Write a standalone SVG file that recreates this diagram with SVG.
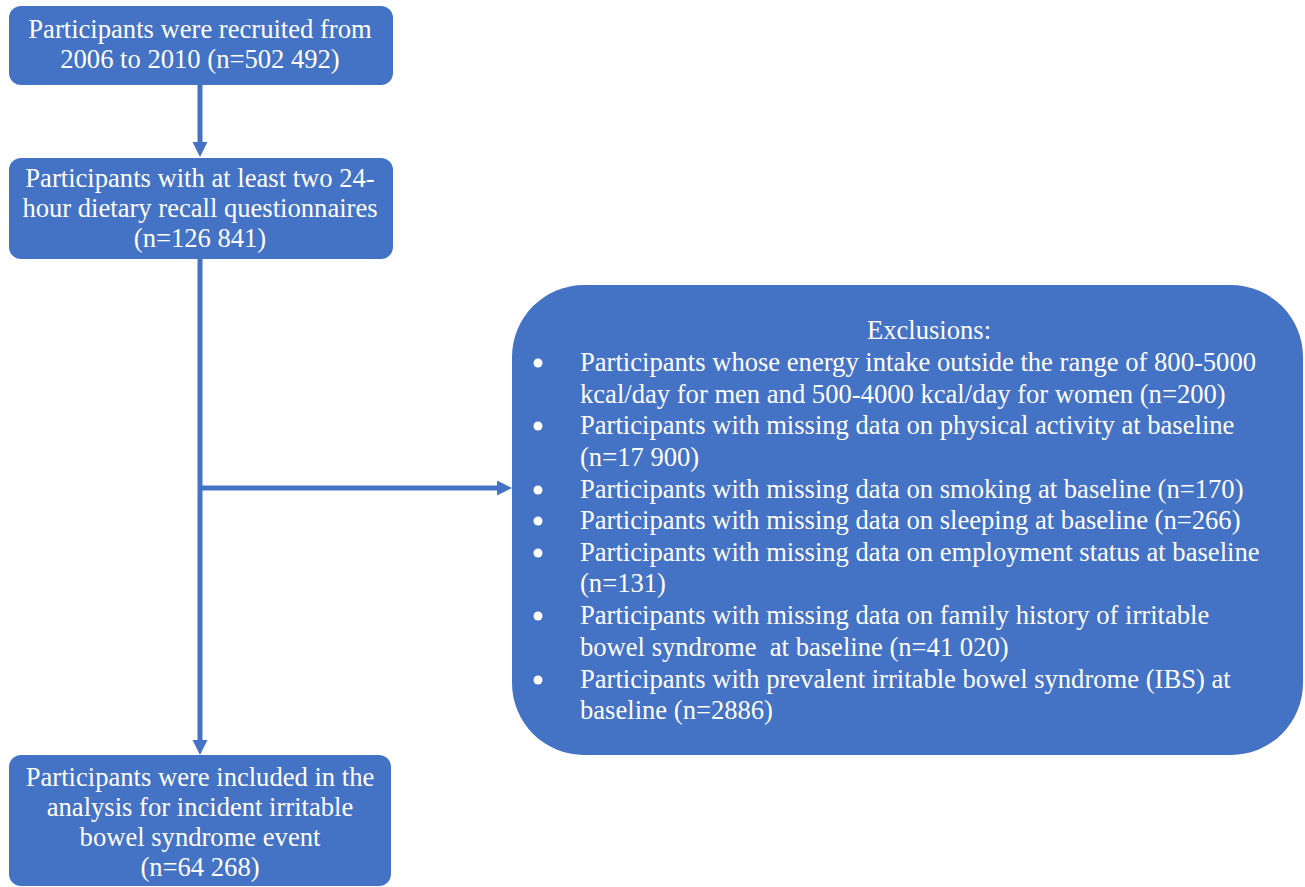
<svg xmlns="http://www.w3.org/2000/svg" width="1305" height="887" viewBox="0 0 1305 887">
<defs>
<style>
.box{fill:#4472C4;}
.t{font-family:"Liberation Serif","Times New Roman",serif;font-size:26.6px;fill:#ffffff;}
.c{text-anchor:middle;}
.line{stroke:#4472C4;stroke-width:5;fill:none;}
.bul{fill:#ffffff;}
</style>
<marker id="arr" markerWidth="16" markerHeight="16" refX="0" refY="7.5" orient="auto" markerUnits="userSpaceOnUse">
<path d="M0,0 L15,7.5 L0,15 Z" fill="#4472C4"/>
</marker>
</defs>
<rect width="1305" height="887" fill="#ffffff"/>
<g id="connectors">
<line class="line" x1="200" y1="85" x2="200" y2="142" marker-end="url(#arr)"/>
<line class="line" x1="200" y1="259" x2="200" y2="740" marker-end="url(#arr)"/>
<line class="line" x1="200" y1="488" x2="497" y2="488" marker-end="url(#arr)"/>
</g>
<g id="node-recruited">
<rect class="box" x="9" y="6" width="384" height="79" rx="12"/>
<text class="t c" x="200" y="38">Participants were recruited from</text>
<text class="t c" x="200" y="68">2006 to 2010 (n=502 492)</text>
</g>
<g id="node-dietary">
<rect class="box" x="9" y="158" width="384" height="101" rx="12"/>
<text class="t c" x="200" y="187">Participants with at least two 24-</text>
<text class="t c" x="200" y="217">hour dietary recall questionnaires</text>
<text class="t c" x="200" y="247">(n=126 841)</text>
</g>
<g id="node-included">
<rect class="box" x="9" y="755" width="382" height="131" rx="12"/>
<text class="t c" x="200" y="786">Participants were included in the</text>
<text class="t c" x="200" y="816">analysis for incident irritable</text>
<text class="t c" x="200" y="846">bowel syndrome event</text>
<text class="t c" x="200" y="876">(n=64 268)</text>
</g>
<g id="node-exclusions">
<rect class="box" x="512" y="285" width="791" height="470" rx="72"/>
<text class="t c" x="929" y="339">Exclusions:</text>
<circle class="bul" cx="538" cy="363" r="4.5"/>
<text class="t" x="580" y="371">Participants whose energy intake outside the range of 800-5000</text>
<text class="t" x="580" y="403">kcal/day for men and 500-4000 kcal/day for women (n=200)</text>
<circle class="bul" cx="538" cy="426" r="4.5"/>
<text class="t" x="580" y="434">Participants with missing data on physical activity at baseline</text>
<text class="t" x="580" y="466">(n=17 900)</text>
<circle class="bul" cx="538" cy="490" r="4.5"/>
<text class="t" x="580" y="498">Participants with missing data on smoking at baseline (n=170)</text>
<circle class="bul" cx="538" cy="521" r="4.5"/>
<text class="t" x="580" y="529">Participants with missing data on sleeping at baseline (n=266)</text>
<circle class="bul" cx="538" cy="553" r="4.5"/>
<text class="t" x="580" y="561">Participants with missing data on employment status at baseline</text>
<text class="t" x="580" y="592">(n=131)</text>
<circle class="bul" cx="538" cy="616" r="4.5"/>
<text class="t" x="580" y="624">Participants with missing data on family history of irritable</text>
<text class="t" x="580" y="656" xml:space="preserve">bowel syndrome  at baseline (n=41 020)</text>
<circle class="bul" cx="538" cy="680" r="4.5"/>
<text class="t" x="580" y="688">Participants with prevalent irritable bowel syndrome (IBS) at</text>
<text class="t" x="580" y="719">baseline (n=2886)</text>
</g>
</svg>
